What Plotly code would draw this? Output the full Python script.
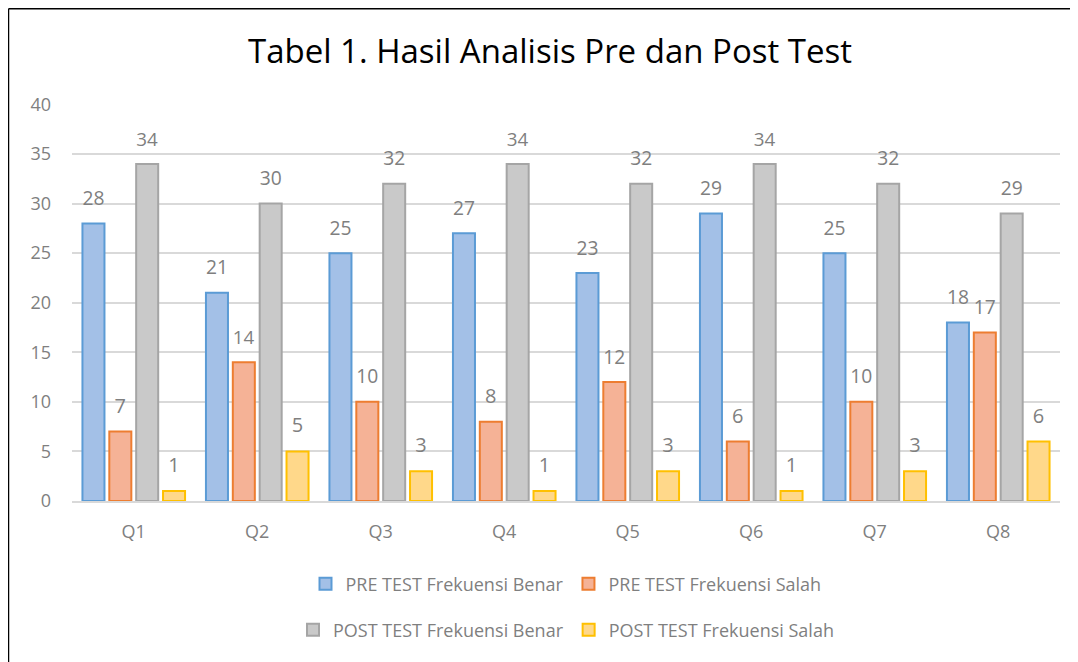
import plotly.graph_objects as go

categories = ["Q1", "Q2", "Q3", "Q4", "Q5", "Q6", "Q7", "Q8"]
pre_benar = [28, 21, 25, 27, 23, 29, 25, 18]
pre_salah = [7, 14, 10, 8, 12, 6, 10, 17]
post_benar = [34, 30, 32, 34, 32, 34, 32, 29]
post_salah = [1, 5, 3, 1, 3, 1, 3, 6]

series = [
    ("PRE TEST Frekuensi Benar", pre_benar, "#a3c0e7", "#5b9bd5", "legend"),
    ("PRE TEST Frekuensi Salah", pre_salah, "#f5b296", "#ed7d31", "legend"),
    ("POST TEST Frekuensi Benar", post_benar, "#c9c9c9", "#a5a5a5", "legend2"),
    ("POST TEST Frekuensi Salah", post_salah, "#ffd88a", "#ffc000", "legend2"),
]

FONT = "Open Sans"
fig = go.Figure()
for name, vals, fill, line, leg in series:
    fig.add_trace(go.Bar(
        x=categories, y=vals, name=name,
        marker=dict(color=fill, line=dict(color=line, width=2)),
        text=vals, textposition="outside",
        texttemplate="<span style='font-size:20px'>%{text}</span><br> ",
        textfont=dict(family=FONT, size=10, color="#7f7f7f"),
        cliponaxis=False, legend=leg,
    ))

# page offset (body margin) compensation
OX, OY = 8, 8
W, H = 1070, 654
# reference pixel positions
ref_left, ref_right, ref_top, ref_bottom = 72, 1060, 104, 501
ml = ref_left - OX
mr = W - (ref_right - OX)
mt = ref_top - OY
mb = H - (ref_bottom - OY)
pw, ph = W - ml - mr, H - mt - mb

def px_x(x):
    return (x - OX - ml) / pw

def px_y(y):
    return (H - mb - (y - OY)) / ph

border = dict(color="#000000", width=1.5)
fig.update_layout(
    width=W, height=H,
    margin=dict(l=ml, r=mr, t=mt, b=mb),
    paper_bgcolor="white", plot_bgcolor="white",
    barmode="group", bargap=0.13, bargroupgap=0.18,
    font=dict(family=FONT, color="#7f7f7f"),
    title=dict(text="Tabel 1. Hasil Analisis Pre dan Post Test",
               x=(550 - OX) / W, xanchor="center", y=1 - (51 - OY) / H, yanchor="middle",
               font=dict(family=FONT, size=33, color="#000000")),
    xaxis=dict(showgrid=False, showline=True, linecolor="#d9d9d9", linewidth=1.5,
               ticks="", tickfont=dict(size=18, color="#7f7f7f"),
               ticklabelstandoff=14, range=[-0.5, 7.5]),
    yaxis=dict(range=[0, 40.05], tickvals=[0, 5, 10, 15, 20, 25, 30, 35, 40],
               showgrid=True, gridcolor="#d9d9d9",
               gridwidth=1.5, zeroline=False, ticks="",
               tickfont=dict(size=18, color="#7f7f7f"), ticklabelstandoff=20),
    legend=dict(orientation="h", x=0.5, xanchor="center", y=px_y(584), yanchor="middle",
                font=dict(size=18, color="#7f7f7f"), itemwidth=30,
                traceorder="normal"),
    legend2=dict(orientation="h", x=0.5, xanchor="center", y=px_y(630), yanchor="middle",
                 font=dict(size=18, color="#7f7f7f"), itemwidth=30,
                 traceorder="normal"),
    showlegend=True,
    shapes=[
        dict(type="line", xref="paper", yref="paper",
             x0=px_x(8.5), x1=px_x(OX + W), y0=px_y(8.8), y1=px_y(8.8),
             line=border, layer="below"),
        dict(type="line", xref="paper", yref="paper",
             x0=px_x(8.5), x1=px_x(8.5), y0=px_y(8.8), y1=px_y(OY + H),
             line=border, layer="below"),
    ],
)

fig.write_html("out.html")
